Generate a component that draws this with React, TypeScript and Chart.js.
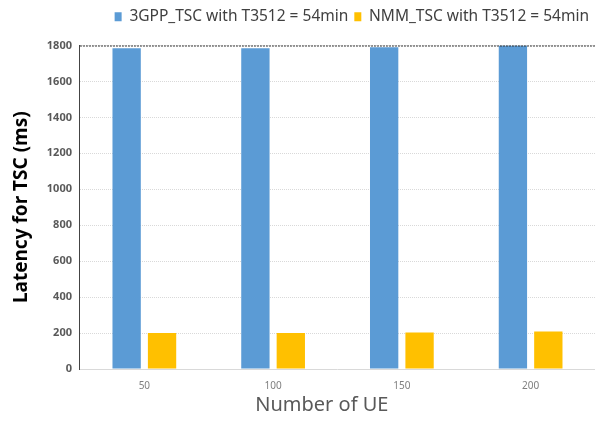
import React, { useEffect, useRef } from "react";
import { Chart, registerables } from "chart.js";

Chart.register(...registerables);

const categories = ["50", "100", "150", "200"];
const series3gpp = [1785, 1785, 1790, 1800];
const seriesNmm = [200, 200, 203, 208];
const seriesNames = ["3GPP_TSC with T3512 = 54min", "NMM_TSC with T3512 = 54min"];
const yTicks = [0, 200, 400, 600, 800, 1000, 1200, 1400, 1600, 1800];

const topBorder = {
  id: "topBorder",
  afterDatasetsDraw(chart: any) {
    const { ctx, chartArea } = chart;
    ctx.save();
    ctx.strokeStyle = "#333";
    ctx.lineWidth = 1;
    ctx.setLineDash([2, 1]);
    ctx.beginPath();
    ctx.moveTo(chartArea.left, chartArea.top + 0.5);
    ctx.lineTo(chartArea.right, chartArea.top + 0.5);
    ctx.stroke();
    ctx.restore();
  },
};

const legendMargin = {
  id: "legendMargin",
  beforeInit(chart: any) {
    const legend = chart.legend;
    if (!legend) return;
    const orig = legend.fit;
    legend.fit = function () {
      orig.bind(legend)();
      legend.height += 11;
    };
  },
};

export default function App() {
  const ref = useRef<HTMLCanvasElement>(null);
  useEffect(() => {
    document.body.style.margin = "0";
    const chart = new Chart(ref.current!, {
      type: "bar",
      data: {
        labels: categories,
        datasets: [
          {
            label: seriesNames[0],
            data: series3gpp,
            backgroundColor: "#5b9bd5",
            categoryPercentage: 0.55,
            barPercentage: 0.8,
          },
          {
            label: seriesNames[1],
            data: seriesNmm,
            backgroundColor: "#ffc000",
            categoryPercentage: 0.55,
            barPercentage: 0.8,
          },
        ],
      },
      options: {
        animation: false,
        responsive: false,
        layout: { padding: { left: 10, right: 0, top: 3, bottom: 6 } },
        plugins: {
          tooltip: { enabled: false },
          legend: {
            position: "top",
            align: "end",
            labels: {
              boxWidth: 7,
              boxHeight: 9,
              padding: 6,
              color: "#404040",
              font: { family: "Noto Sans", size: 15.5 },
            },
          },
        },
        scales: {
          x: {
            grid: { display: false },
            border: { color: "#d9d9d9" },
            ticks: { color: "#7f7f7f", font: { family: "Noto Sans", size: 10 }, padding: 3 },
            title: {
              display: true,
              text: "Number of UE      ",
              color: "#595959",
              font: { family: "Noto Sans", size: 20, lineHeight: 1 },
              padding: { top: 0, bottom: 0 },
            },
          },
          y: {
            min: 0,
            max: 1800,
            afterBuildTicks: (axis: any) => {
              axis.ticks = yTicks.map((v) => ({ value: v }));
            },
            grid: { color: "#d9d9d9", drawTicks: false },
            border: { color: "#444", dash: [1, 1] },
            ticks: {
              color: "#595959",
              padding: 8,
              callback: (v: any) => String(v),
              font: { family: "Noto Sans", size: 11, weight: "bold" },
            },
            title: {
              display: true,
              text: "Latency for TSC (ms)",
              color: "#000",
              font: { family: "Noto Sans", size: 19, weight: "bold" },
              padding: { top: 0, bottom: 6 },
            },
          },
        },
      },
      plugins: [topBorder, legendMargin],
    });
    return () => chart.destroy();
  }, []);
  return (
    <div style={{ position: "absolute", left: 0, top: 0, width: 595, height: 421 }}>
      <canvas ref={ref} width={595} height={421} />
    </div>
  );
}
